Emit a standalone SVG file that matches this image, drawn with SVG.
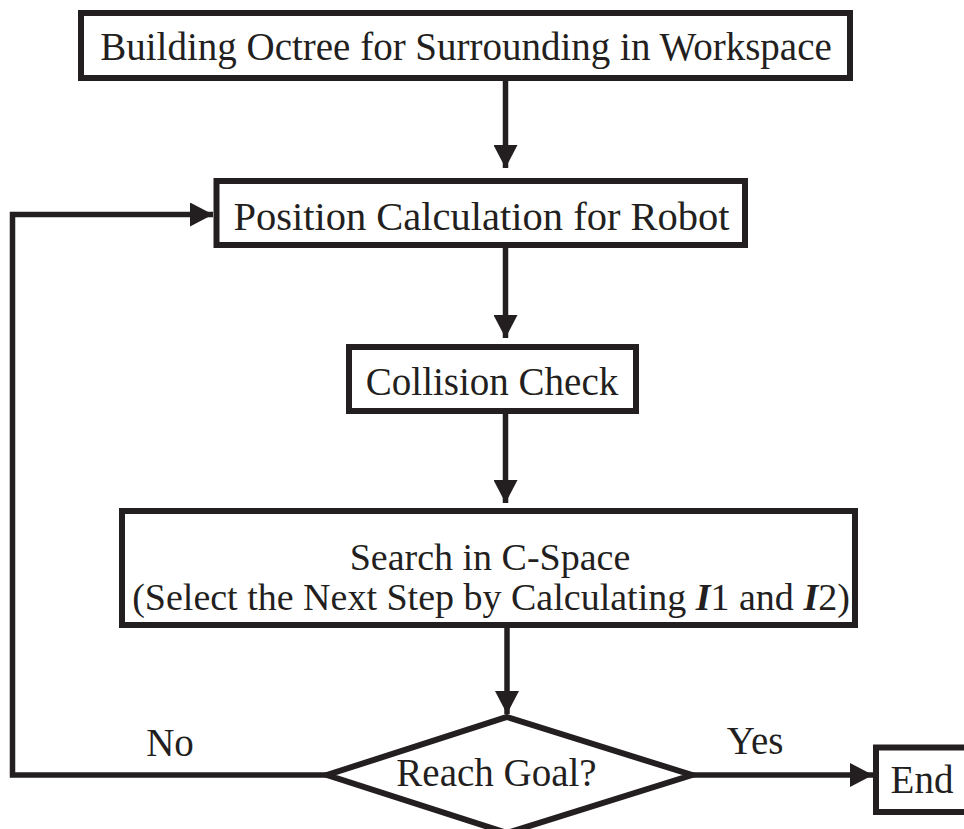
<svg xmlns="http://www.w3.org/2000/svg" width="964" height="829" viewBox="0 0 964 829">
<style>
.box{fill:#fff;stroke:#231f20;stroke-width:6}
.ln{fill:none;stroke:#231f20;stroke-width:5.5}
.t{font-family:"Liberation Serif","Times New Roman",serif;font-size:39px;fill:#231f20;text-anchor:middle}
.bi{font-weight:bold;font-style:italic}
</style>
<defs>
<marker id="ah" markerUnits="userSpaceOnUse" markerWidth="24" markerHeight="24" viewBox="0 0 24 24" refX="23" refY="12" orient="auto">
<path d="M0 0 L23 12 L0 24 Z" fill="#231f20"/>
</marker>
</defs>
<rect width="964" height="829" fill="#fff"/>
<g id="connectors">
<path class="ln" d="M505.5 78 V168" marker-end="url(#ah)"/>
<path class="ln" d="M505.5 245 V338" marker-end="url(#ah)"/>
<path class="ln" d="M505.5 411 V503" marker-end="url(#ah)"/>
<path class="ln" d="M507 625 V714" marker-end="url(#ah)"/>
<path class="ln" d="M327 775 H12.5 V214.5 H213" marker-end="url(#ah)"/>
<path class="ln" d="M692 775 H873" marker-end="url(#ah)"/>
</g>
<g id="n1">
<rect class="box" x="81" y="13" width="769" height="65"/>
<text class="t" x="466" y="60">Building Octree for Surrounding in Workspace</text>
</g>
<g id="n2">
<rect class="box" x="216.5" y="181" width="528.5" height="64"/>
<text class="t" x="481.5" y="230" style="font-size:40.5px">Position Calculation for Robot</text>
</g>
<g id="n3">
<rect class="box" x="349" y="347" width="287" height="64"/>
<text class="t" x="492" y="395">Collision Check</text>
</g>
<g id="n4">
<rect class="box" x="122" y="511" width="733" height="114"/>
<text class="t" x="490" y="570" style="font-size:38px">Search in C-Space</text>
<text class="t" x="491" y="610" style="font-size:38px">(Select the Next Step by Calculating <tspan class="bi">I</tspan>1 and <tspan class="bi">I</tspan>2)</text>
</g>
<g id="n5">
<path class="box" d="M507 717 L692 775 L507 833 L327 775 Z"/>
<text class="t" x="496.5" y="786">Reach Goal?</text>
</g>
<g id="n6">
<rect class="box" x="876" y="747.5" width="100" height="64.5"/>
<text class="t" x="922" y="793">End</text>
</g>
<g id="labels">
<text class="t" x="170" y="756">No</text>
<text class="t" x="755" y="754">Yes</text>
</g>
</svg>
